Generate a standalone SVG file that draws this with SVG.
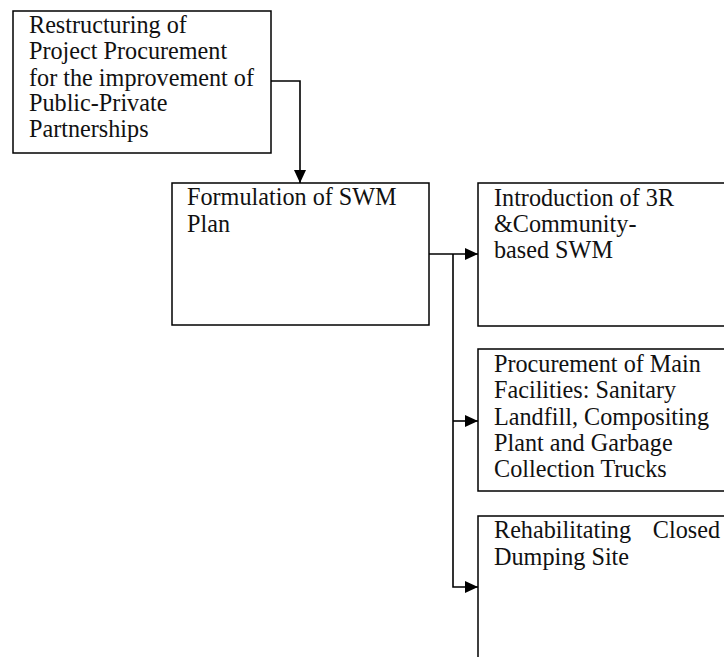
<svg xmlns="http://www.w3.org/2000/svg" width="724" height="657" viewBox="0 0 724 657">
<style>
.box{fill:#fff;stroke:#000;stroke-width:1.5}
.t{font-family:"Liberation Serif","Times New Roman",serif;font-size:24.2px;fill:#111}
.c{fill:none;stroke:#000;stroke-width:1.6}
</style>
<defs>
<marker id="ah" viewBox="0 0 13 12" refX="13" refY="6" markerWidth="13" markerHeight="12" markerUnits="userSpaceOnUse" orient="auto">
<path d="M0,0 L13,6 L0,12 Z" fill="#000"/>
</marker>
</defs>
<rect width="724" height="657" fill="#fff"/>
<g id="connectors">
<path class="c" d="M271,81 H300 V183" marker-end="url(#ah)"/>
<path class="c" d="M429,254 H478" marker-end="url(#ah)"/>
<path class="c" d="M453,254 V587 H478" marker-end="url(#ah)"/>
<path class="c" d="M453,421 H478" marker-end="url(#ah)"/>
</g>
<g id="n1">
<rect class="box" x="13" y="11" width="258" height="142"/>
<text class="t" x="29" y="33">Restructuring of</text>
<text class="t" x="29" y="59">Project Procurement</text>
<text class="t" x="29" y="86">for the improvement of</text>
<text class="t" x="29" y="111">Public-Private</text>
<text class="t" x="29" y="137">Partnerships</text>
</g>
<g id="n2">
<rect class="box" x="172" y="183" width="257" height="142"/>
<text class="t" x="187" y="205">Formulation of SWM</text>
<text class="t" x="187" y="232">Plan</text>
</g>
<g id="n3">
<rect class="box" x="478" y="183" width="260" height="143"/>
<text class="t" x="494" y="206">Introduction of 3R</text>
<text class="t" x="494" y="232">&amp;Community-</text>
<text class="t" x="494" y="258">based SWM</text>
</g>
<g id="n4">
<rect class="box" x="478" y="349" width="260" height="142"/>
<text class="t" x="494" y="372">Procurement of Main</text>
<text class="t" x="494" y="398">Facilities: Sanitary</text>
<text class="t" x="494" y="425">Landfill, Compositing</text>
<text class="t" x="494" y="451">Plant and Garbage</text>
<text class="t" x="494" y="477">Collection Trucks</text>
</g>
<g id="n5">
<rect class="box" x="478" y="516" width="260" height="160"/>
<text class="t" x="494" y="538">Rehabilitating</text>
<text class="t" x="720" y="538" text-anchor="end">Closed</text>
<text class="t" x="494" y="565">Dumping Site</text>
</g>
</svg>
